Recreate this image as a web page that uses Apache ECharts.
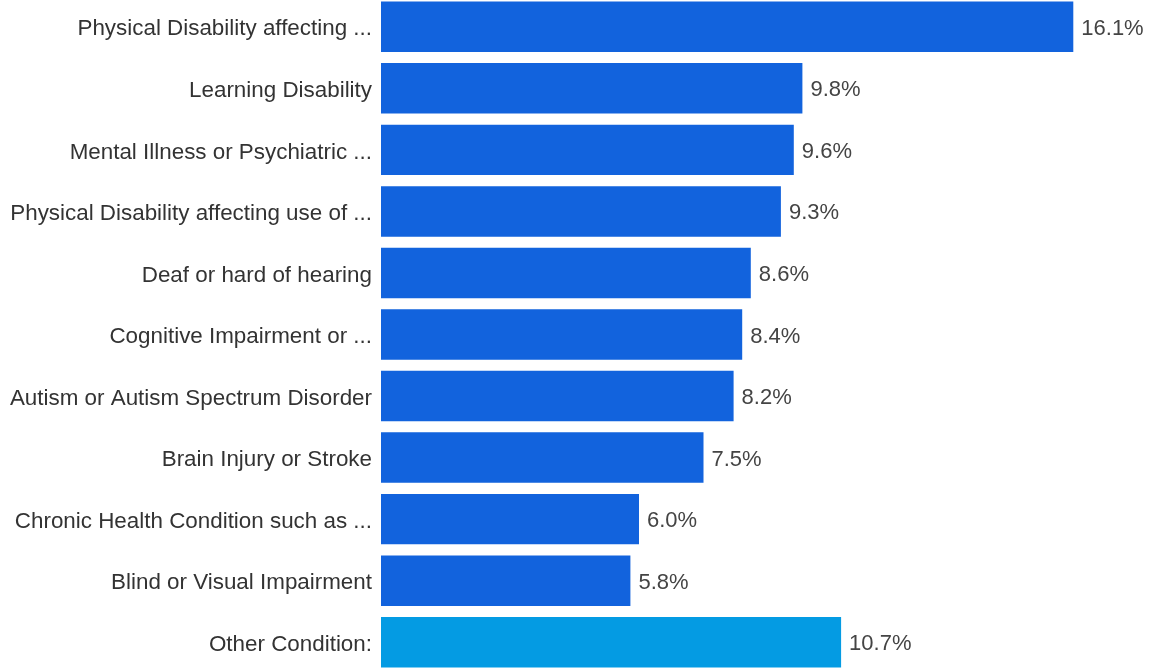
<!DOCTYPE html>
<html>
<head>
<meta charset="utf-8">
<script src="https://cdn.jsdelivr.net/npm/echarts@6/dist/echarts.min.js"></script>
<style>
  html, body { margin: 0; padding: 0; background: #fff; }
  #chart { width: 1151px; height: 668px; }
</style>
</head>
<body>
<div id="chart"></div>
<script>
// Disability categories, top to bottom
const categories = [
  'Physical Disability affecting ...',
  'Learning Disability',
  'Mental Illness or Psychiatric ...',
  'Physical Disability affecting use of ...',
  'Deaf or hard of hearing',
  'Cognitive Impairment or ...',
  'Autism or Autism Spectrum Disorder',
  'Brain Injury or Stroke',
  'Chronic Health Condition such as ...',
  'Blind or Visual Impairment',
  'Other Condition:'
];
// Share of respondents (%)
const shares = [16.1, 9.8, 9.6, 9.3, 8.6, 8.4, 8.2, 7.5, 6.0, 5.8, 10.7];
// Index of the highlighted "other" row
const otherIndex = 10;

const font = '"Liberation Sans", Arial, sans-serif';

const chart = echarts.init(document.getElementById('chart'));
chart.setOption({
  animation: false,
  grid: {
    left: 381, top: -4, width: 774, height: 677,
    containLabel: false,
    outerBoundsMode: 'none'
  },
  xAxis: {
    type: 'value', min: 0, max: 18,
    show: false
  },
  yAxis: {
    type: 'category',
    data: categories,
    inverse: true,
    axisLine: { show: false },
    axisTick: { show: false },
    axisLabel: {
      margin: 9,
      formatter: v => '{c|' + v + '}',
      rich: {
        c: {
          color: '#333',
          fontFamily: font,
          fontSize: 22.4,
          padding: [5, 0, 0, 0]
        }
      }
    }
  },
  series: [{
    type: 'bar',
    barCategoryGap: '18%',
    data: shares.map((v, i) => ({
      value: v,
      itemStyle: { color: i === otherIndex ? '#049BE3' : '#1263DD' }
    })),
    label: {
      show: true,
      position: 'right',
      distance: 8,
      offset: [0, 2],
      color: '#444',
      fontFamily: font,
      fontSize: 22,
      formatter: p => p.value.toFixed(1) + '%'
    }
  }]
});
</script>
</body>
</html>
